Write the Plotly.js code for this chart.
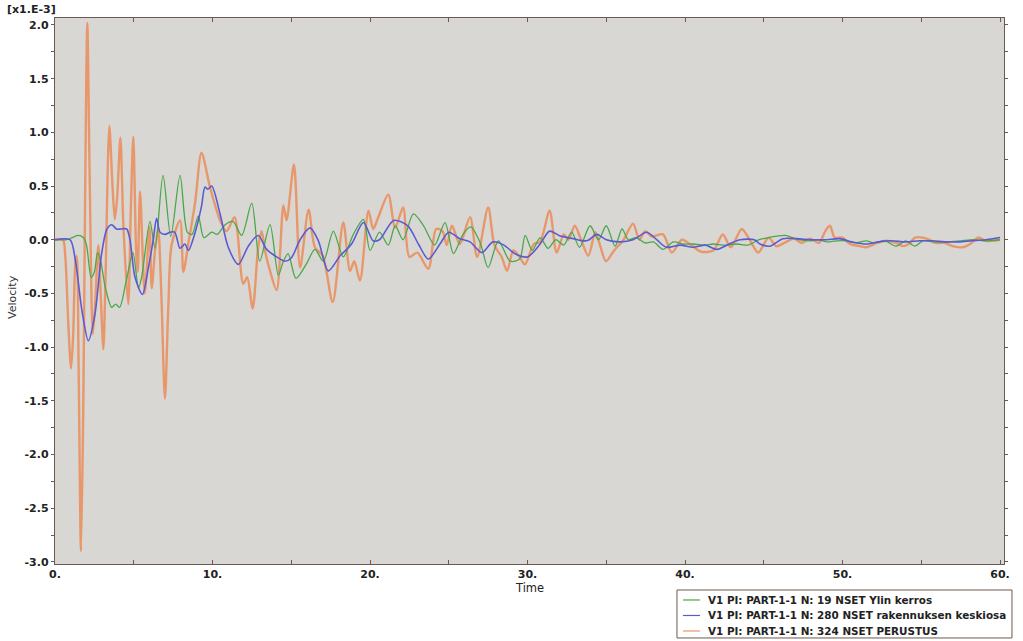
<!DOCTYPE html>
<html>
<head>
<meta charset="utf-8">
<script src="https://cdn.plot.ly/plotly-3.0.1.min.js"></script>
<style>
  html, body { margin: 0; padding: 0; background: #ffffff; }
  #chart { width: 1023px; height: 641px; }
</style>
</head>
<body>
<div id="chart"></div>
<script>
// ---- Data (velocity values in units of 1e-3) ----
const seriesNames = [
  "V1 PI: PART-1-1 N: 19 NSET Ylin kerros",
  "V1 PI: PART-1-1 N: 280 NSET rakennuksen keskiosa",
  "V1 PI: PART-1-1 N: 324 NSET PERUSTUS"
];
const seriesColors = ["#4aa84a", "#5a5ad2", "#e8976b"];

const orangeT = [0,0.5,0.65,0.85,1.02,1.15,1.3,1.38,1.5,1.65,1.8,1.9,2.05,2.2,2.4,2.55,2.75,2.9,3.07,3.2,3.45,3.65,3.8,3.95,4.15,4.35,4.65,4.8,4.97,5.15,5.25,5.4,5.7,6.0,6.14,6.35,6.55,6.75,6.98,7.2,7.4,7.94,8.15,8.47,8.9,9.3,9.84,10.48,10.9,11.4,11.95,12.2,12.55,12.9,13.12,13.33,13.65,14.07,14.5,14.7,15.17,15.56,16.1,16.5,17.0,17.63,18.3,18.73,19.0,19.36,19.9,20.2,20.5,21.16,21.59,22.1,22.5,23.0,23.7,24.2,24.6,24.87,25.2,25.7,26.35,26.8,27.5,27.9,28.36,28.7,29.1,29.5,29.84,30.4,30.8,31.4,31.85,32.3,32.6,33.0,33.4,33.86,34.3,34.6,34.98,35.5,36.1,36.7,37.1,37.46,37.9,38.6,39.16,39.8,40.4,41.0,41.8,42.4,42.9,43.6,44.1,44.65,45.3,45.8,46.3,46.9,47.4,47.94,48.5,48.9,49.2,49.5,50.0,50.47,51.1,51.5,52.2,52.8,53.4,53.86,54.2,54.6,55.1,55.5,55.9,56.5,57.0,57.67,58.1,58.6,59.1,59.5,60];
const orangeV = [0,0,-0.15,-0.8,-1.2,-0.9,-0.2,-0.15,-1.2,-2.9,-1.5,0.2,2.02,0.6,-0.88,-0.6,-0.05,-0.5,-1.02,-0.4,1.06,0.5,0.19,0.4,0.95,0.1,-0.6,0.2,0.96,-0.1,-0.3,0.45,-0.5,0.12,-0.45,-0.1,0.1,-0.5,-1.48,-0.6,-0.05,0.18,-0.3,-0.03,0.35,0.81,0.49,0.18,0.08,0.21,-0.41,-0.35,-0.64,-0.07,0.08,-0.1,-0.29,-0.47,0.32,0.18,0.7,-0.26,0.28,-0.07,-0.15,-0.58,0.16,-0.29,-0.2,-0.38,0.27,0.1,0.2,0.42,0.11,0.3,-0.16,-0.12,-0.27,0.1,0.08,-0.05,0.13,-0.04,0.21,-0.16,0.3,-0.05,-0.16,-0.29,-0.1,-0.16,-0.23,-0.04,-0.02,0.27,-0.12,0.05,0.0,0.13,0.0,-0.15,0.07,-0.05,-0.2,-0.1,0.0,0.15,0.0,0.08,0.03,0.05,-0.12,0.0,-0.05,-0.11,-0.1,0.05,-0.07,0.1,0.0,-0.12,0.02,-0.06,-0.03,0.01,-0.03,0.01,-0.03,0.08,0.13,0.02,0.02,-0.04,-0.06,-0.07,-0.03,-0.01,-0.03,-0.06,-0.04,0.02,0.02,0.0,-0.03,-0.03,-0.06,-0.07,-0.04,0.02,-0.01,-0.01,0.0];

const greenT = [0,0.74,1.1,1.47,1.8,2.0,2.3,2.5,2.7,2.9,3.2,3.6,3.85,4.1,4.5,4.95,5.3,5.5,6.03,6.35,6.86,7.35,7.94,8.4,8.7,9.1,9.45,9.95,10.3,10.8,11.3,11.85,12.49,13.0,13.65,14.18,14.5,14.8,15.3,15.98,16.5,17.04,17.67,18.3,18.94,19.58,20.0,20.6,21.16,21.6,22.1,22.75,23.4,24.1,24.76,25.3,25.9,26.4,27.0,27.5,28.15,28.9,29.5,29.85,30.3,30.8,31.3,31.8,32.3,32.8,33.3,33.97,34.5,35.0,35.56,36.0,36.4,36.9,37.46,38.0,38.6,39.26,39.9,40.5,41.2,41.8,42.5,43.3,44.0,44.7,45.3,46.35,47.2,47.9,48.5,49.0,49.6,50.2,50.8,51.5,52.0,52.7,53.4,54.0,54.6,55.1,55.8,56.6,57.5,58.3,59.1,60];
const greenV = [0,0,0.02,0.04,0.02,-0.05,-0.35,-0.3,-0.12,-0.2,-0.45,-0.63,-0.6,-0.63,-0.4,-0.12,-0.45,-0.35,0.17,-0.08,0.6,0.03,0.6,0.07,0.05,0.22,0.02,0.07,0.05,0.14,0.17,0.04,0.34,-0.2,0.14,-0.33,-0.2,-0.13,-0.36,-0.22,-0.09,-0.2,0.08,-0.16,0.05,0.19,-0.1,0.07,-0.05,0.13,0.0,0.24,0.13,-0.05,0.16,-0.13,0.05,0.12,-0.03,-0.26,-0.01,-0.2,-0.18,0.04,-0.1,0.02,-0.08,0.0,-0.05,0.07,-0.07,0.13,0.0,0.13,-0.06,0.1,0.0,0.02,-0.03,-0.02,-0.09,-0.02,-0.04,-0.04,-0.05,-0.04,-0.05,-0.04,-0.05,0.0,0.02,0.04,0.0,-0.01,0.0,-0.02,-0.01,-0.01,-0.03,-0.01,-0.03,-0.01,-0.06,-0.01,-0.06,-0.01,-0.02,-0.02,-0.01,0.0,-0.01,0.0];

const blueT = [0,0.95,1.3,1.7,2.12,2.54,2.96,3.3,3.6,3.9,4.2,4.55,4.76,5.08,5.55,5.93,6.24,6.45,6.67,7.0,7.3,7.6,7.94,8.25,8.47,8.9,9.3,9.52,9.7,9.95,10.48,11.0,11.64,12.27,12.9,13.44,14.07,14.6,15.0,15.56,16.19,16.72,17.35,18.1,18.83,19.58,20.2,20.6,21.5,22.4,23.07,23.7,24.44,25.0,25.7,26.35,27.1,27.8,28.5,29.2,30.0,30.8,31.4,32.0,32.9,33.76,34.4,35.0,35.9,36.7,37.57,38.2,38.8,39.7,40.5,41.3,42.0,42.8,43.5,44.4,44.76,45.4,46.2,47.1,48.0,49.0,49.8,50.6,51.5,52.3,53.1,54.0,54.9,55.7,56.5,57.4,58.2,59.1,60];
const blueV = [0,0,-0.2,-0.65,-0.94,-0.69,-0.13,0.1,0.14,0.1,0.1,0.1,0.0,-0.35,-0.51,-0.26,0.0,0.2,0.07,0.05,0.07,0.07,-0.08,-0.04,-0.1,0.07,0.31,0.49,0.47,0.5,0.24,-0.07,-0.23,-0.06,0.04,-0.09,-0.16,-0.2,-0.17,0.0,0.11,-0.01,-0.29,-0.15,-0.04,0.16,-0.01,0.0,0.18,0.13,-0.04,-0.18,-0.04,0.07,0.01,-0.02,-0.12,-0.02,-0.05,-0.13,-0.16,-0.04,0.08,0.04,0.01,-0.01,0.05,0.0,-0.02,0.0,0.07,0.0,-0.07,-0.05,-0.07,-0.05,-0.09,-0.04,0.0,0.0,-0.04,-0.06,0.01,0.01,0.0,0.0,0.01,-0.02,-0.04,-0.02,-0.01,-0.02,-0.01,-0.01,-0.02,-0.02,-0.01,0.0,0.02];

// ---- Tick labels ----
const xTickVals = [0,5,10,15,20,25,30,35,40,45,50,55,60];
const xTickText = ["0.","","10.","","20.","","30.","","40.","","50.","","60."];
const yTickVals = [-3,-2.75,-2.5,-2.25,-2,-1.75,-1.5,-1.25,-1,-0.75,-0.5,-0.25,0,0.25,0.5,0.75,1,1.25,1.5,1.75,2];
const yTickText = ["-3.0","","-2.5","","-2.0","","-1.5","","-1.0","","-0.5","","0.0","","0.5","","1.0","","1.5","","2.0"];

const axisColor = "#6b5a50";
const tickFont = {family: "DejaVu Sans", size: 11, color: "#222222", weight: "bold"};

const traces = [
  {x: orangeT, y: orangeV, name: seriesNames[2], mode: "lines",
   line: {color: seriesColors[2], width: 2.4, shape: "spline", smoothing: 0.8}},
  {x: greenT, y: greenV, name: seriesNames[0], mode: "lines",
   line: {color: seriesColors[0], width: 1.3, shape: "spline", smoothing: 0.8}},
  {x: blueT, y: blueV, name: seriesNames[1], mode: "lines",
   line: {color: seriesColors[1], width: 1.6, shape: "spline", smoothing: 0.8}}
];

// ---- Legend box drawn in paper coordinates ----
const legBox = {x0: 0.6554, x1: 1.0084, y0: -0.1355, y1: -0.0476};
const legRows = [-0.0659, -0.0943, -0.1227];
const shapes = [
  {type: "rect", xref: "paper", yref: "paper", x0: legBox.x0, x1: legBox.x1, y0: legBox.y0, y1: legBox.y1,
   line: {color: axisColor, width: 1}, fillcolor: "#ffffff", layer: "above"}
];
const annotations = [
  {text: "[x1.E-3]", xref: "paper", yref: "paper", x: -0.053, y: 1.0147,
   xanchor: "left", yanchor: "middle", showarrow: false,
   font: {family: "DejaVu Sans", size: 11, color: "#222222", weight: "bold"}},
  {text: "Velocity", xref: "paper", yref: "paper", x: -0.0453, y: 0.489,
   xanchor: "center", yanchor: "middle", textangle: -90, showarrow: false,
   font: {family: "DejaVu Sans", size: 11, color: "#333333"}},
  {text: "Time", xref: "paper", yref: "paper", x: 0.5, y: -0.0445,
   xanchor: "center", yanchor: "middle", showarrow: false,
   font: {family: "DejaVu Sans", size: 11.5, color: "#222222"}}
];
seriesNames.forEach((name, i) => {
  shapes.push({type: "line", xref: "paper", yref: "paper", x0: 0.6617, x1: 0.6797,
    y0: legRows[i], y1: legRows[i], line: {color: seriesColors[i], width: 1.2}, layer: "above"});
  annotations.push({text: name, xref: "paper", yref: "paper", x: 0.686, y: legRows[i],
    xanchor: "left", yanchor: "middle", showarrow: false,
    font: {family: "DejaVu Sans", size: 10.4, color: "#222222", weight: "bold"}});
});

const layout = {
  width: 1023, height: 641,
  margin: {l: 55, r: 19, t: 18, b: 77, pad: 0, autoexpand: false},
  paper_bgcolor: "#ffffff",
  plot_bgcolor: "#d9d7d4",
  showlegend: false,
  xaxis: {
    range: [0, 60.25], showgrid: false, zeroline: false,
    showline: true, linecolor: axisColor, linewidth: 1.2, mirror: "ticks",
    ticks: "inside", ticklen: 4, tickcolor: axisColor,
    tickmode: "array", tickvals: xTickVals, ticktext: xTickText,
    tickfont: tickFont, automargin: false
  },
  yaxis: {
    range: [-3.02, 2.065], showgrid: false, zeroline: false,
    showline: true, linecolor: axisColor, linewidth: 1.2, mirror: "ticks",
    ticks: "outside", ticklen: 3, tickcolor: axisColor,
    tickmode: "array", tickvals: yTickVals, ticktext: yTickText,
    tickfont: tickFont, automargin: false
  },
  shapes: shapes,
  annotations: annotations
};

Plotly.newPlot("chart", traces, layout, {displayModeBar: false, staticPlot: true});
</script>
</body>
</html>
